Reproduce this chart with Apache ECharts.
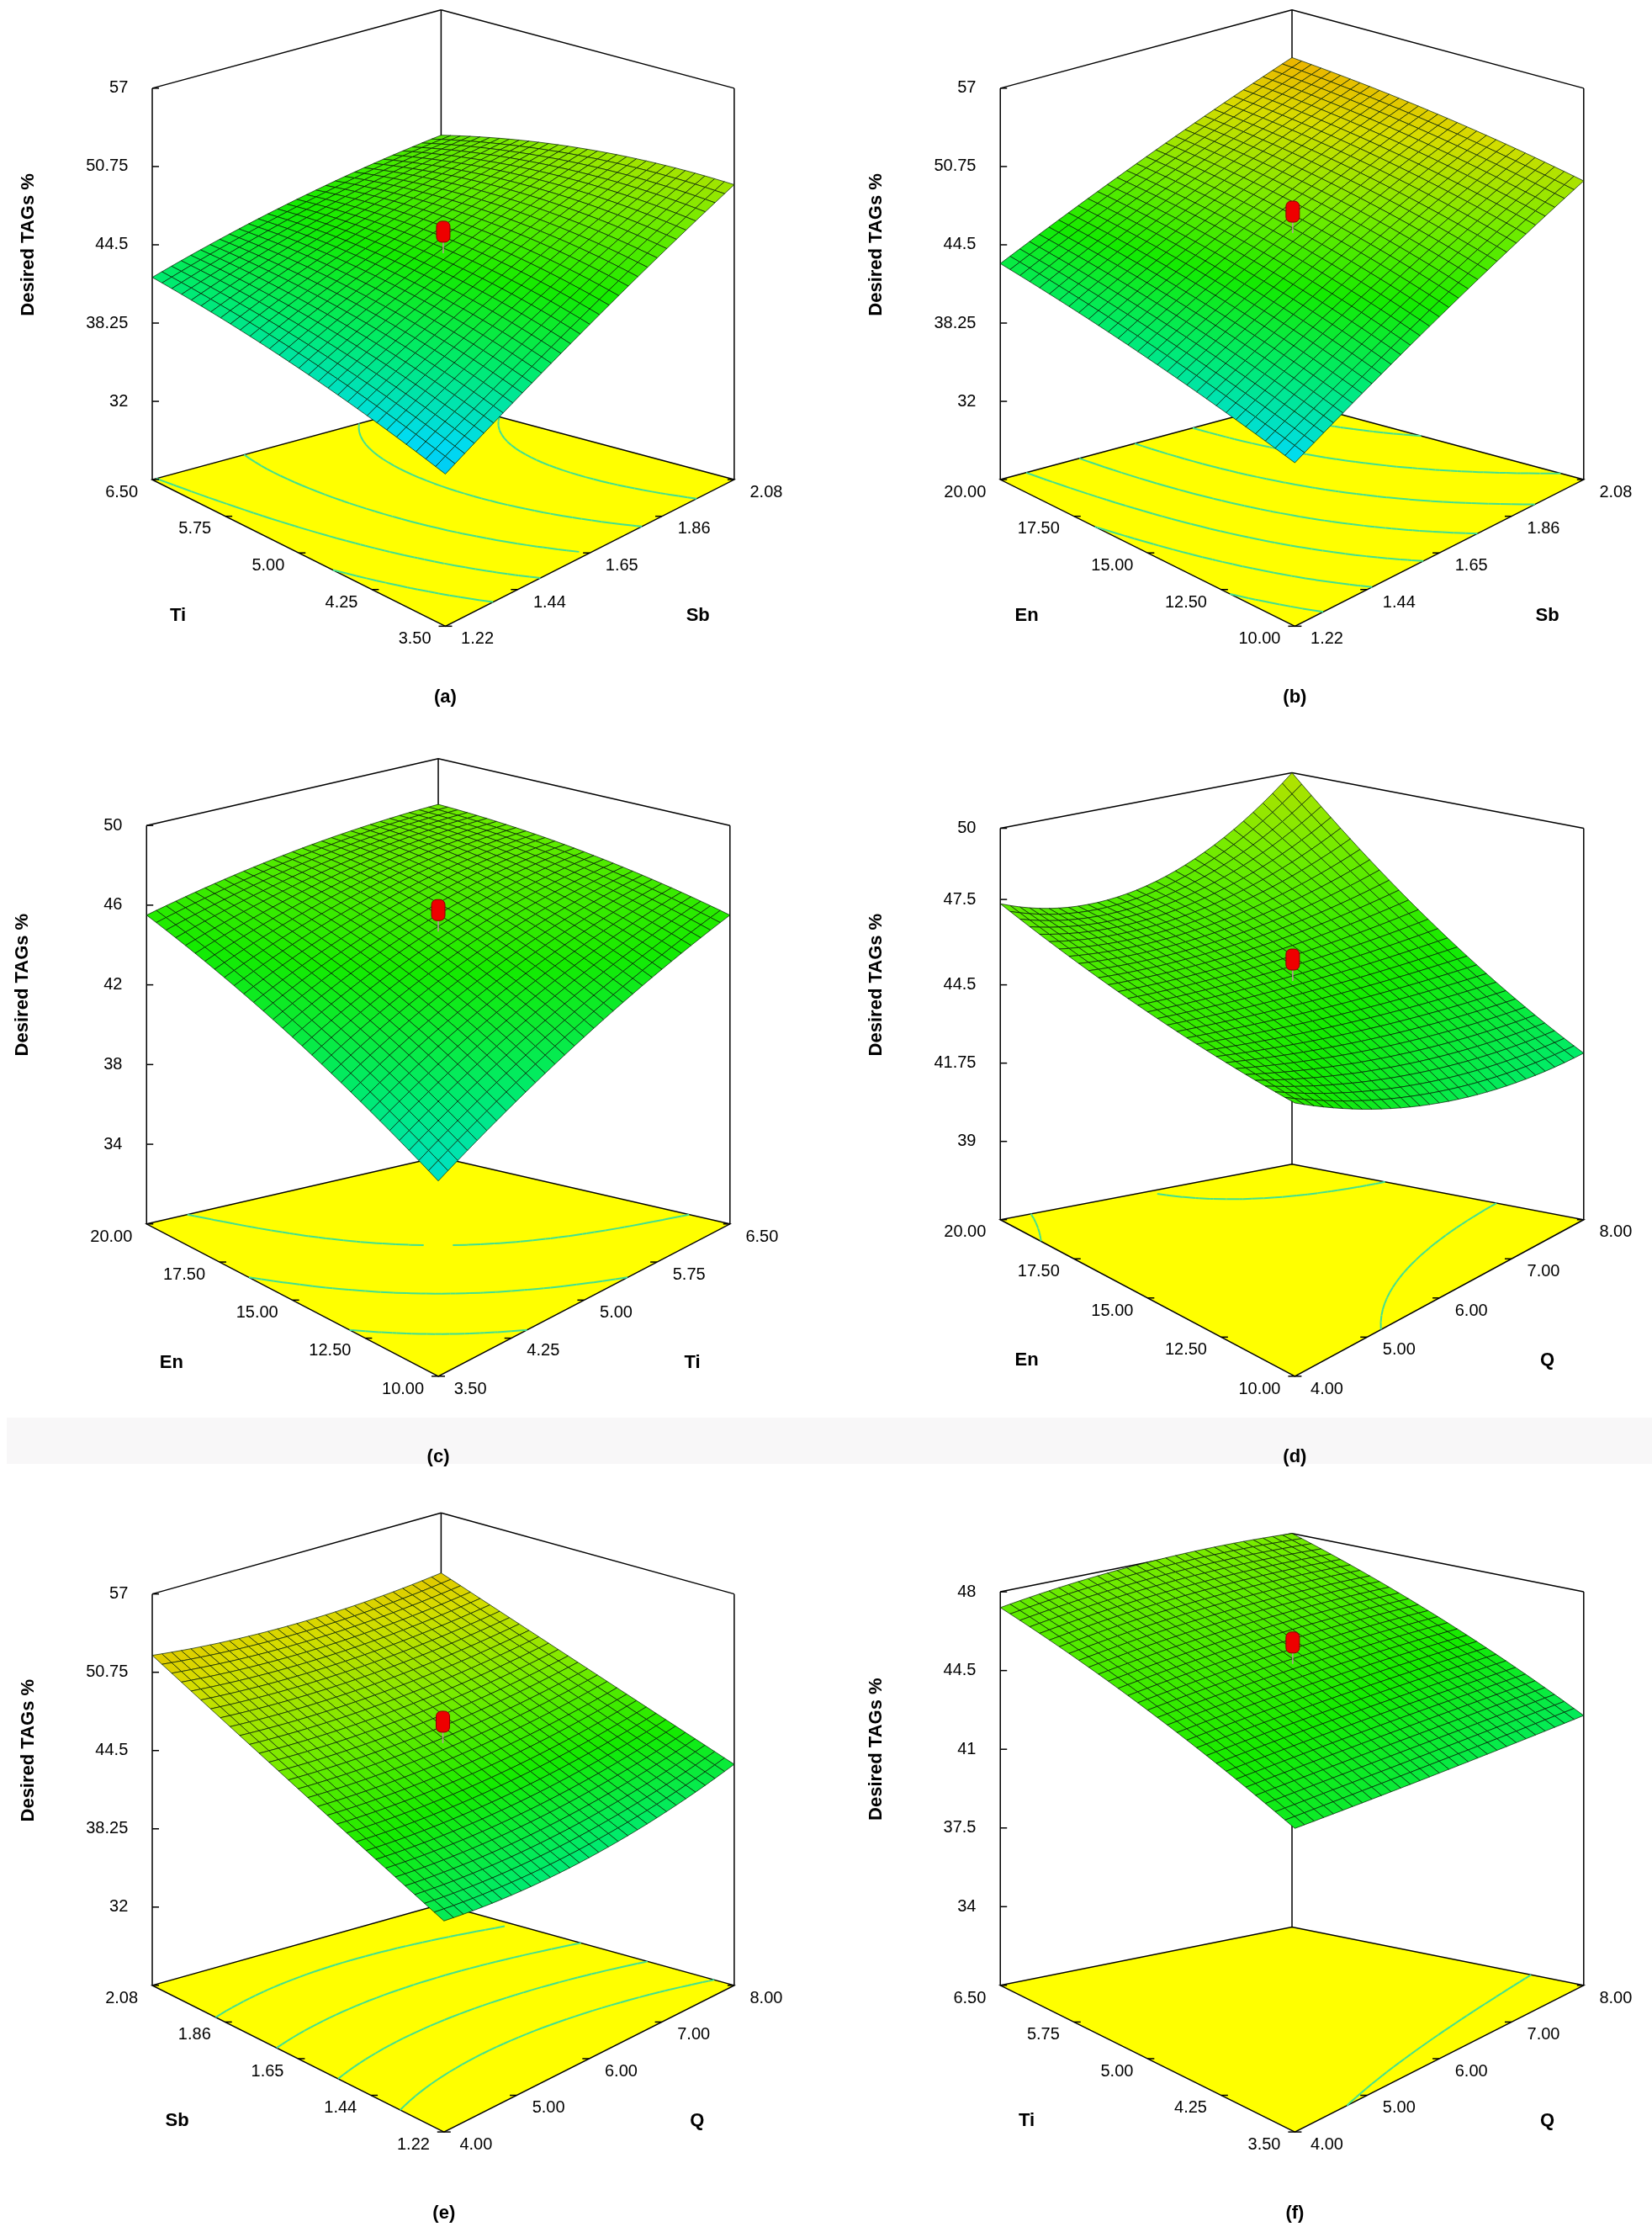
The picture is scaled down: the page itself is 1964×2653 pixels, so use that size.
<!DOCTYPE html>
<html><head><meta charset="utf-8">
<script src="https://cdn.jsdelivr.net/npm/echarts@6/dist/echarts.min.js"></script>
<style>html,body{margin:0;padding:0;background:#fff}#c{width:1964px;height:2653px}</style>
</head><body><div id="c"></div>
<script>
// ---------- data ----------
const zTicksA=[32,38.25,44.5,50.75,57], zTicksB=[32,38.25,44.5,50.75,57];
const zTicksC=[34,38,42,46,50], zTicksD=[39,41.75,44.5,47.5,50];
const zTicksE=[32,38.25,44.5,50.75,57], zTicksF=[34,37.5,41,44.5,48];
const ticksTi=["3.50","4.25","5.00","5.75","6.50"];
const ticksSb=["1.22","1.44","1.65","1.86","2.08"];
const ticksEn=["10.00","12.50","15.00","17.50","20.00"];
const ticksQ=["4.00","5.00","6.00","7.00","8.00"];
// 3x3 grids of response values: rows = left factor (low, mid, high), cols = right factor (low, mid, high)
const surfA=[[37.9,44.0,49.3],[40.5,45.6,49.0],[41.9,45.0,47.0]];
const surfB=[[38.8,44.6,49.6],[41.3,47.2,51.8],[43.0,48.4,53.2]];
const surfC=[[39.8,43.2,45.5],[43.2,46.0,47.0],[45.5,47.0,47.7]];
const surfD=[[45.85,43.1,42.1],[46.3,45.7,45.5],[47.35,47.0,50.0]];
const surfE=[[42.6,41.8,43.4],[47.3,46.8,47.8],[52.1,51.4,52.2]];
const surfF=[[44.0,43.2,42.5],[46.0,46.0,45.6],[47.3,48.0,48.0]];
const levelsA=[40,42,44,46,48], levelsB=[40,42,44,46,48,50,52];
const levelsC=[42,44,46], levelsD=[44,47];
const levelsE=[44,46,48,50], levelsF=[43.7];

// ---------- layout ----------
const S=1964/1161;
const panels=[
 {F:[313,440],L:[107,337],R:[516,337],B:[310,282],zmin:25.75,k:8.8,zt:zTicksA,lt:ticksTi,rt:ticksSb,ln:"Ti",rn:"Sb",lab:"(a)",g:surfA,lv:levelsA},
 {F:[910,440],L:[703,337],R:[1113,337],B:[908,282],zmin:25.75,k:8.8,zt:zTicksB,lt:ticksEn,rt:ticksSb,ln:"En",rn:"Sb",lab:"(b)",g:surfB,lv:levelsB},
 {F:[308,967],L:[103,860],R:[513,860],B:[308,813],zmin:30,k:14,zt:zTicksC,lt:ticksEn,rt:ticksTi,ln:"En",rn:"Ti",lab:"(c)",g:surfC,lv:levelsC},
 {F:[910,967],L:[703,857],R:[1113,857],B:[908,818],zmin:36.25,k:20,zt:zTicksD,lt:ticksEn,rt:ticksQ,ln:"En",rn:"Q",lab:"(d)",g:surfD,lv:levelsD},
 {F:[312,1498],L:[107,1395],R:[516,1395],B:[310,1338],zmin:25.75,k:8.8,zt:zTicksE,lt:ticksSb,rt:ticksQ,ln:"Sb",rn:"Q",lab:"(e)",g:surfE,lv:levelsE},
 {F:[910,1498],L:[703,1395],R:[1113,1395],B:[908,1354],zmin:30.5,k:15.8,zt:zTicksF,lt:ticksTi,rt:ticksQ,ln:"Ti",rn:"Q",lab:"(f)",g:surfF,lv:levelsF}
];
const FONT='"Liberation Sans Narrow","Liberation Sans",Arial,sans-serif';
const stops=[[36,[0,170,255]],[39,[0,220,240]],[42,[0,235,110]],[45,[20,235,0]],[48,[120,235,0]],[51,[215,220,0]],[54,[245,165,0]],[60,[250,110,0]]];
function col(z){
  if(z<=stops[0][0]) return 'rgb('+stops[0][1]+')';
  for(let i=1;i<stops.length;i++){ if(z<=stops[i][0]){const a=stops[i-1],b=stops[i],t=(z-a[0])/(b[0]-a[0]);
    return 'rgb('+a[1].map((c,j)=>Math.round(c+(b[1][j]-c)*t)).join(',')+')';}}
  return 'rgb('+stops[stops.length-1][1]+')';
}
const lag=[t=>2*(t-0.5)*(t-1),t=>-4*t*(t-1),t=>2*t*(t-0.5)];
function zval(p,u,v){let s=0;for(let i=0;i<3;i++)for(let j=0;j<3;j++)s+=p.g[i][j]*lag[i](u)*lag[j](v);return s;}
function proj(p,u,v,z){
  const w=[(1-u)*(1-v),u*(1-v),(1-u)*v,u*v];
  const x=w[0]*p.F[0]+w[1]*p.L[0]+w[2]*p.R[0]+w[3]*p.B[0];
  const y=w[0]*p.F[1]+w[1]*p.L[1]+w[2]*p.R[1]+w[3]*p.B[1]-(z-p.zmin)*p.k;
  return [x*S,y*S];
}
function line(a,b,w,c){return {type:'line',shape:{x1:a[0],y1:a[1],x2:b[0],y2:b[1]},style:{stroke:c||'#000',lineWidth:w||1.5}};}
function text(t,x,y,al,opt){return Object.assign({type:'text',x:x,y:y,style:{text:t,font:(opt&&opt.font)||('20px '+FONT),fill:'#000',align:al||'center',verticalAlign:'middle'}},opt&&opt.extra||{});}

function buildPanel(p){
  const ch=[]; const zmax=p.zt[p.zt.length-1];
  const fF=proj(p,0,0,p.zmin),fL=proj(p,1,0,p.zmin),fR=proj(p,0,1,p.zmin),fB=proj(p,1,1,p.zmin);
  const tL=proj(p,1,0,zmax),tR=proj(p,0,1,zmax),tB=proj(p,1,1,zmax);
  ch.push(line(fL,tL),line(fR,tR),line(fB,tB),line(tL,tB),line(tB,tR));
  ch.push({type:'polygon',shape:{points:[fF,fL,fB,fR]},style:{fill:'#ffff00',stroke:'#000',lineWidth:1.5}});
  const N=40, zz=[];
  for(let i=0;i<=N;i++){zz.push([]);for(let j=0;j<=N;j++)zz[i].push(zval(p,i/N,j/N));}
  p.lv.forEach(L=>{
    for(let i=0;i<N;i++)for(let j=0;j<N;j++){
      const c=[[i,j],[i+1,j],[i+1,j+1],[i,j+1]]; const pts=[];
      for(let e=0;e<4;e++){const a=c[e],b=c[(e+1)%4];const za=zz[a[0]][a[1]],zb=zz[b[0]][b[1]];
        if((za-L)*(zb-L)<0){const t=(L-za)/(zb-za);pts.push(proj(p,(a[0]+(b[0]-a[0])*t)/N,(a[1]+(b[1]-a[1])*t)/N,p.zmin));}}
      if(pts.length>=2) ch.push(line(pts[0],pts[1],2,'#40e090'));
      if(pts.length===4) ch.push(line(pts[2],pts[3],2,'#40e090'));
    }
  });
  const M=30, quads=[];
  for(let i=0;i<M;i++)for(let j=0;j<M;j++)quads.push([i,j]);
  quads.sort((a,b)=>(b[0]+b[1])-(a[0]+a[1]));
  quads.forEach(([i,j])=>{
    const cs=[[i,j],[i+1,j],[i+1,j+1],[i,j+1]];
    let zs=0; const pts=cs.map(([a,b])=>{const z=zval(p,a/M,b/M);zs+=z;return proj(p,a/M,b/M,z);});
    ch.push({type:'polygon',shape:{points:pts},style:{fill:col(zs/4),stroke:'rgba(0,25,0,0.7)',lineWidth:1}});
  });
  const zc=zval(p,0.5,0.5); const m=proj(p,0.5,0.5,zc);
  ch.push(line([m[0],m[1]+6],[m[0],m[1]-28],1.5,'#b99'));
  ch.push({type:'rect',shape:{x:m[0]-8,y:m[1]-32,width:16,height:25,r:6},style:{fill:'#ee0000',stroke:'#800',lineWidth:1}});
  for(let t=0;t<5;t++){
    const u=t/4; const a=proj(p,u,0,p.zmin); const b=proj(p,0,u,p.zmin);
    ch.push(line(a,[a[0]+8,a[1]],1.5)); ch.push(line(b,[b[0]-8,b[1]],1.5));
    ch.push(text(p.lt[t],a[0]-10*S,a[1]+9*S,'right'));
    ch.push(text(p.rt[t],b[0]+11*S,b[1]+9*S,'left'));
  }
  p.zt.forEach(z=>{const a=proj(p,1,0,z); ch.push(line(a,[a[0]+8,a[1]],1.5)); ch.push(text(String(z),a[0]-17*S,a[1],'right'));});
  const bold='bold 22px '+FONT;
  const mL=proj(p,0.5,0,p.zmin), mR=proj(p,0,0.5,p.zmin);
  ch.push(text(p.ln,mL[0]-85*S,mL[1]+44*S,'center',{font:bold}));
  ch.push(text(p.rn,mR[0]+76*S,mR[1]+44*S,'center',{font:bold}));
  const zm=proj(p,1,0,(p.zt[0]+zmax)/2);
  ch.push({type:'text',x:(p.L[0]-87)*S,y:zm[1],rotation:Math.PI/2,style:{text:'Desired TAGs %',font:bold,fill:'#000',align:'center',verticalAlign:'middle'}});
  ch.push(text(p.lab,p.F[0]*S,(p.F[1]+(p.lab==='(a)'||p.lab==='(b)'?50:57))*S,'center',{font:bold}));
  return {type:'group',children:ch};
}
const chart=echarts.init(document.getElementById('c'),null,{renderer:'canvas'});
chart.setOption({
  animation:false,
  graphic:[{type:'rect',shape:{x:8,y:1685,width:1956,height:55},style:{fill:'#f8f7f8'},z:-10}],
  series:panels.map(p=>({type:'custom',coordinateSystem:'none',silent:true,data:[0],renderItem:()=>buildPanel(p)}))
});
</script></body></html>
